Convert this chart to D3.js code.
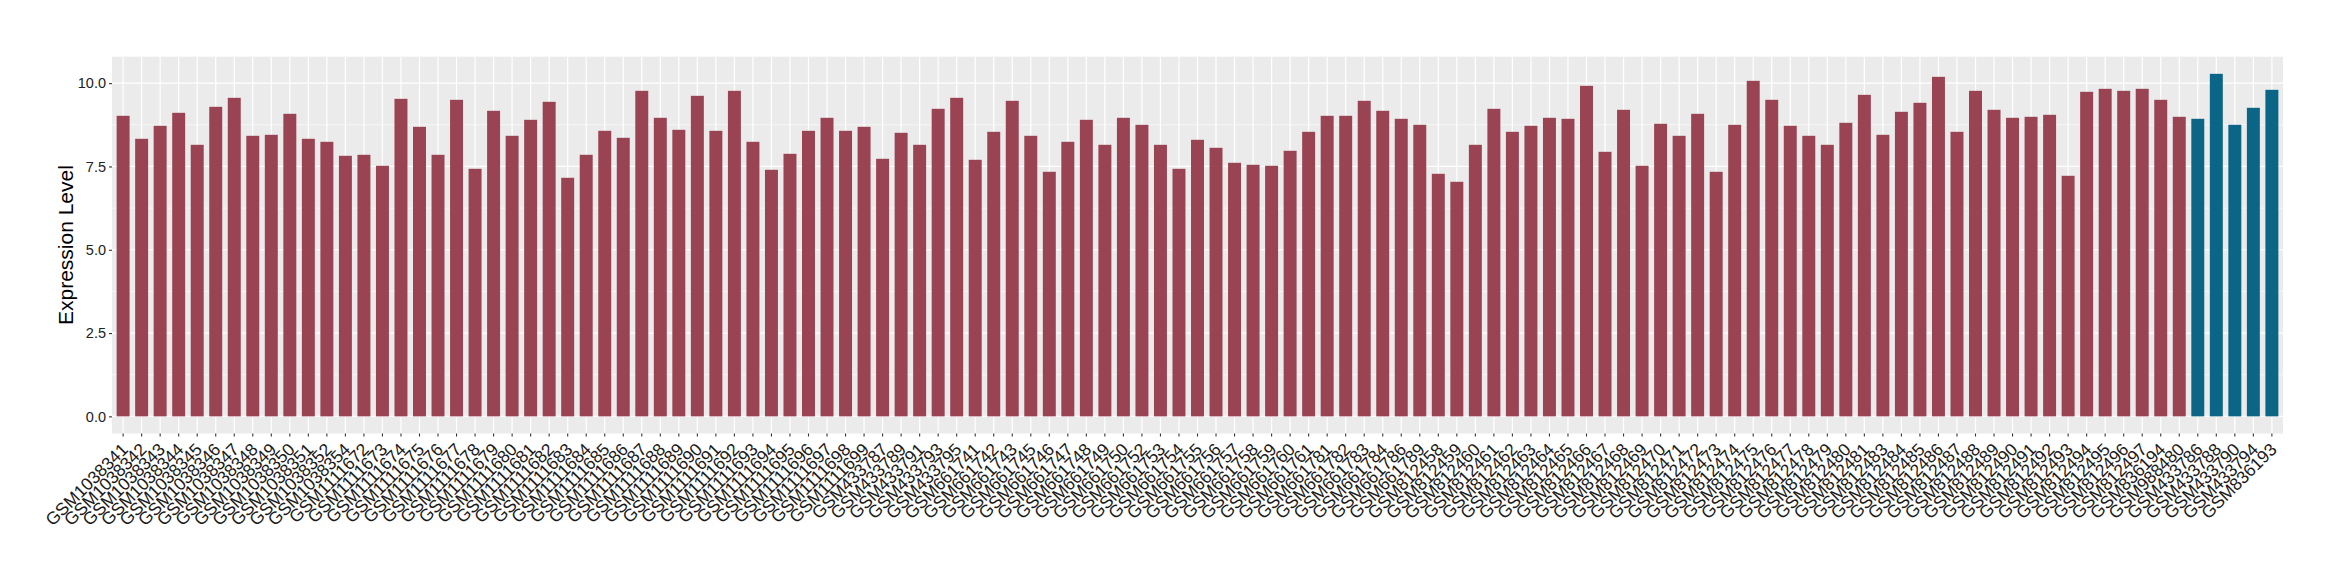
<!DOCTYPE html>
<html>
<head>
<meta charset="utf-8">
<script src="https://cdn.jsdelivr.net/npm/d3@7"></script>
<style>
  body { margin: 0; background: #fff; }
  svg text { font-family: "Liberation Sans", Arial, sans-serif; }
</style>
</head>
<body>
<div class="expr-plot"></div>
<script>
// sample ids along the x axis
const samples = [
  'GSM1038341','GSM1038342','GSM1038343','GSM1038344','GSM1038345','GSM1038346','GSM1038347',
  'GSM1038348','GSM1038349','GSM1038350','GSM1038351','GSM1038352','GSM1038354',
  'GSM1111672','GSM1111673','GSM1111674','GSM1111675','GSM1111676','GSM1111677','GSM1111678',
  'GSM1111679','GSM1111680','GSM1111681','GSM1111682','GSM1111683','GSM1111684','GSM1111685',
  'GSM1111686','GSM1111687','GSM1111688','GSM1111689','GSM1111690','GSM1111691','GSM1111692',
  'GSM1111693','GSM1111694','GSM1111695','GSM1111696','GSM1111697','GSM1111698','GSM1111699',
  'GSM433787','GSM433789','GSM433791','GSM433793','GSM433795',
  'GSM661741','GSM661742','GSM661743','GSM661745','GSM661746','GSM661747','GSM661748',
  'GSM661749','GSM661750','GSM661752','GSM661753','GSM661754','GSM661755','GSM661756',
  'GSM661757','GSM661758','GSM661759','GSM661760','GSM661761','GSM661781','GSM661782',
  'GSM661783','GSM661784','GSM661786','GSM661789',
  'GSM812458','GSM812459','GSM812460','GSM812461','GSM812462','GSM812463','GSM812464',
  'GSM812465','GSM812466','GSM812467','GSM812468','GSM812469','GSM812470','GSM812471',
  'GSM812472','GSM812473','GSM812474','GSM812475','GSM812476','GSM812477','GSM812478',
  'GSM812479','GSM812480','GSM812481','GSM812483','GSM812484','GSM812485','GSM812486',
  'GSM812487','GSM812488','GSM812489','GSM812490','GSM812491','GSM812492','GSM812493',
  'GSM812494','GSM812495','GSM812496','GSM812497',
  'GSM836194','GSM988480',
  'GSM433786','GSM433788','GSM433790','GSM433794','GSM836193'
];

// expression level per sample (same order)
const expression = [
  9.02, 8.33, 8.72, 9.11, 8.15, 9.29, 9.56, 8.42, 8.45, 9.08, 8.33, 8.24, 7.82,
  7.85, 7.52, 9.53, 8.69, 7.85, 9.50, 7.43, 9.17, 8.42, 8.90, 9.44, 7.16, 7.85, 8.57,
  8.36, 9.77, 8.96, 8.60, 9.62, 8.57, 9.77, 8.24, 7.40, 7.88, 8.57, 8.96, 8.57, 8.69,
  7.73, 8.51, 8.15, 9.23, 9.56,
  7.70, 8.54, 9.47, 8.42, 7.34, 8.24, 8.90, 8.15, 8.96, 8.75, 8.15, 7.43, 8.30, 8.06,
  7.61, 7.55, 7.52, 7.97, 8.54, 9.02, 9.02, 9.47, 9.17, 8.93, 8.75,
  7.28, 7.04, 8.15, 9.23, 8.54, 8.72, 8.96, 8.93, 9.92, 7.94, 9.20, 7.52, 8.78, 8.42,
  9.08, 7.34, 8.75, 10.07, 9.50, 8.72, 8.42, 8.15, 8.81, 9.65, 8.45, 9.14, 9.41, 10.19,
  8.54, 9.77, 9.20, 8.96, 8.99, 9.05, 7.22, 9.74, 9.83, 9.77, 9.83,
  9.50, 8.99,
  8.93, 10.28, 8.75, 9.26, 9.80
];

// samples drawn in the second colour
const highlighted = ['GSM433786','GSM433788','GSM433790','GSM433794','GSM836193'];

const yTicks = [0, 2.5, 5, 7.5, 10];
const yMinor = [1.25, 3.75, 6.25, 8.75];

const width = 2340;
const height = 580;
const margin = {top: 56.7, right: 57, bottom: 146.5, left: 112};

const data = samples.map((s, i) => ({sample: s, value: expression[i]}));

const svg = d3.select('.expr-plot')
  .append('svg')
  .attr('width', width)
  .attr('height', height);

const maxV = d3.max(expression);
const pad = maxV * 0.05;

const x = d3.scaleBand()
  .domain(samples)
  .range([margin.left, width - margin.right])
  .paddingInner(0.3)
  .paddingOuter(0.25);

const y = d3.scaleLinear()
  .domain([-pad, maxV + pad])
  .range([height - margin.bottom, margin.top]);

// panel background
svg.append('rect')
  .attr('x', margin.left)
  .attr('y', margin.top)
  .attr('width', width - margin.left - margin.right)
  .attr('height', height - margin.top - margin.bottom)
  .attr('fill', '#EBEBEB');

// grid
svg.selectAll('.minor')
  .data(yMinor)
  .enter()
  .append('line')
  .attr('x1', margin.left)
  .attr('x2', width - margin.right)
  .attr('y1', d => y(d))
  .attr('y2', d => y(d))
  .attr('stroke', '#fff')
  .attr('stroke-width', 0.6);

svg.selectAll('.major')
  .data(yTicks)
  .enter()
  .append('line')
  .attr('x1', margin.left)
  .attr('x2', width - margin.right)
  .attr('y1', d => y(d))
  .attr('y2', d => y(d))
  .attr('stroke', '#fff')
  .attr('stroke-width', 1.2);

svg.selectAll('.vgrid')
  .data(samples)
  .enter()
  .append('line')
  .attr('x1', d => x(d) + x.bandwidth() / 2)
  .attr('x2', d => x(d) + x.bandwidth() / 2)
  .attr('y1', margin.top)
  .attr('y2', height - margin.bottom)
  .attr('stroke', '#fff')
  .attr('stroke-width', 1.2);

// bars
svg.selectAll('.bar')
  .data(data)
  .enter()
  .append('rect')
  .attr('x', d => x(d.sample))
  .attr('width', x.bandwidth())
  .attr('y', d => y(d.value))
  .attr('height', d => y(0) - y(d.value))
  .attr('fill', d => highlighted.includes(d.sample) ? '#0B6587' : '#9A4352');

// y axis
const yAxis = svg.append('g')
  .attr('transform', 'translate(' + margin.left + ',0)')
  .call(d3.axisLeft(y).tickValues(yTicks).tickFormat(d3.format('.1f')).tickSize(3).tickPadding(3));
yAxis.select('.domain').remove();
yAxis.selectAll('line').attr('stroke', '#333').attr('stroke-width', 1.1);
yAxis.selectAll('text')
  .attr('fill', '#222')
  .style('font-size', '14.5px')
  .style('font-family', '"Liberation Sans", Arial, sans-serif');

// x axis, labels turned 45 degrees
const xAxis = svg.append('g')
  .attr('transform', 'translate(0,' + (height - margin.bottom) + ')')
  .call(d3.axisBottom(x).tickSize(3).tickPadding(0));
xAxis.select('.domain').remove();
xAxis.selectAll('line').attr('stroke', '#333').attr('stroke-width', 1.1);
xAxis.selectAll('text')
  .attr('fill', '#1a1a1a')
  .attr('text-anchor', 'end')
  .attr('y', 0)
  .attr('dy', 0)
  .attr('transform', 'translate(6,17) rotate(-45)')
  .style('font-size', '17.5px')
  .style('font-family', '"Liberation Sans", Arial, sans-serif');

// y title
svg.append('text')
  .attr('transform', 'translate(73,' + ((margin.top + height - margin.bottom) / 2) + ') rotate(-90)')
  .attr('text-anchor', 'middle')
  .style('font-size', '21px')
  .attr('fill', '#000')
  .text('Expression Level');
</script>
</body>
</html>
